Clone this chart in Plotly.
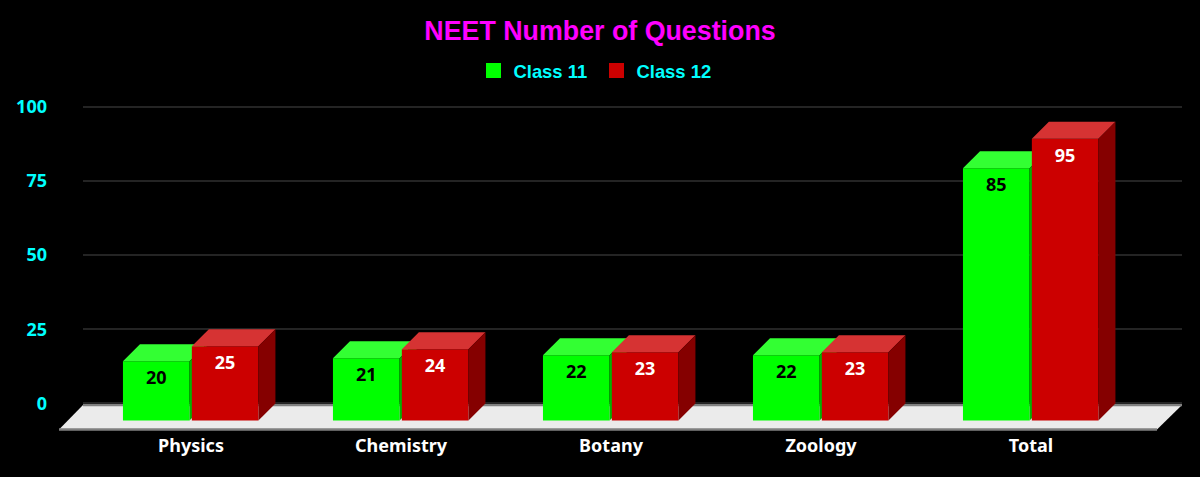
import plotly.graph_objects as go

categories = ["Physics", "Chemistry", "Botany", "Zoology", "Total"]
class_11 = [20, 21, 22, 22, 85]
class_12 = [25, 24, 23, 23, 95]
y_ticks = [0, 25, 50, 75, 100]

# 3d look: front of the column sits in front of the back wall by this much
DEPTH_X = 0.081
DEPTH_Y = 5.74
BAR_W = 0.317
X_RANGE = [-0.5143, 4.719]
Y_RANGE = [-8.6, 105]
TICK_FONT = "Noto Sans"


def faces(values, offset, xa, ya, top_color, side_color):
    # top and side of every column, as closed polygons
    out = []
    for i, v in enumerate(values):
        x0 = i + offset
        x1 = x0 + BAR_W
        front = v - DEPTH_Y
        base = -DEPTH_Y
        out.append(go.Scatter(
            x=[x0, x1, x1 + DEPTH_X, x0 + DEPTH_X, x0],
            y=[front, front, v, v, front],
            fill="toself", mode="none", fillcolor=top_color,
            showlegend=False, hoverinfo="skip", xaxis=xa, yaxis=ya))
        out.append(go.Scatter(
            x=[x1, x1 + DEPTH_X, x1 + DEPTH_X, x1, x1],
            y=[front, v, 0, base, front],
            fill="toself", mode="none", fillcolor=side_color,
            showlegend=False, hoverinfo="skip", xaxis=xa, yaxis=ya))
    return out


def column(values, offset, color, name, xa, ya):
    return go.Bar(
        x=list(range(len(values))), y=values, base=-DEPTH_Y,
        width=BAR_W, offset=offset, marker=dict(color=color, line=dict(width=0)),
        name=name, showlegend=False, xaxis=xa, yaxis=ya)


def labels(values, offset, color, xa, ya):
    return go.Scatter(
        x=[i + offset + BAR_W / 2 for i in range(len(values))],
        y=[v - 2 * DEPTH_Y - 0.5 for v in values],
        text=[str(v) for v in values], mode="text", textposition="middle center",
        textfont=dict(family=TICK_FONT, size=18, color=color, weight="bold"),
        showlegend=False, hoverinfo="skip", xaxis=xa, yaxis=ya)


def legend_item(name, color):
    return go.Scatter(x=[None], y=[None], mode="markers", name=name,
                      marker=dict(symbol="square", size=15, color=color))


traces = []
# green goes on the first axes, red on an overlay so it covers the green side
traces.extend(faces(class_11, -0.324, "x", "y", "#33ff33", "#00b300"))
traces.append(column(class_11, -0.324, "#00ff00", "Class 11", "x", "y"))
traces.append(labels(class_11, -0.324, "#000000", "x", "y"))
traces.extend(faces(class_12, 0.004, "x2", "y2", "#d63333", "#850000"))
traces.append(column(class_12, 0.004, "#cc0000", "Class 12", "x2", "y2"))
traces.append(labels(class_12, 0.004, "#ffffff", "x2", "y2"))
traces.append(legend_item("Class 11", "#00ff00"))
traces.append(legend_item("Class 12", "#cc0000"))

fig = go.Figure(traces)

PLOT_W = 1099.0
floor_left = (59 - 83) / PLOT_W
floor_right = (1157 - 83) / PLOT_W
fig.add_shape(type="path", xref="paper", yref="paper", layer="below",
              path="M %f,%f L 0,%f L 1,%f L %f,%f Z" % (
                  floor_left, -0.0015, 0.0715, 0.0715, floor_right, -0.0015),
              fillcolor="#ebebeb", line=dict(width=0))
fig.add_shape(type="line", xref="paper", yref="paper", layer="below",
              x0=0, x1=1, y0=0.0715, y1=0.0715, line=dict(color="#808080", width=2.5))
fig.add_shape(type="line", xref="paper", yref="paper", layer="below",
              x0=floor_left, x1=floor_right, y0=-0.0015, y1=-0.0015,
              line=dict(color="#808080", width=2.5))

fig.update_layout(
    width=1200, height=477,
    paper_bgcolor="#000000", plot_bgcolor="#000000",
    margin=dict(l=83, r=18, t=92, b=48),
    barmode="overlay",
    title=dict(text="NEET Number of Questions", x=0.5, xanchor="center", y=0.935, yanchor="middle",
               font=dict(family="Liberation Sans", size=26.8, color="#ff00ff", weight="bold")),
    legend=dict(orientation="h", x=(473.5 - 83) / PLOT_W, xanchor="left", y=1.009, yanchor="bottom",
                entrywidth=78,
                font=dict(family="Liberation Sans", size=18.4, color="#00ffff", weight="bold"),
                bgcolor="rgba(0,0,0,0)"),
    xaxis=dict(range=X_RANGE, tickmode="array", tickvals=list(range(len(categories))),
               ticktext=categories, showgrid=False, zeroline=False, showline=False,
               ticks="", ticklabelstandoff=4,
               tickfont=dict(family=TICK_FONT, size=18, color="#ffffff", weight="bold")),
    yaxis=dict(range=Y_RANGE, tickmode="array", tickvals=y_ticks, showgrid=True,
               gridcolor="#242424", gridwidth=2, zeroline=False, showline=False,
               ticks="", ticklabelstandoff=35,
               tickfont=dict(family=TICK_FONT, size=18, color="#00ffff", weight="bold")),
    xaxis2=dict(range=X_RANGE, overlaying="x", visible=False),
    yaxis2=dict(range=Y_RANGE, overlaying="y", visible=False),
)

fig.write_html("out.html", post_script="document.body.style.margin='0';",
               config=dict(displayModeBar=False))
